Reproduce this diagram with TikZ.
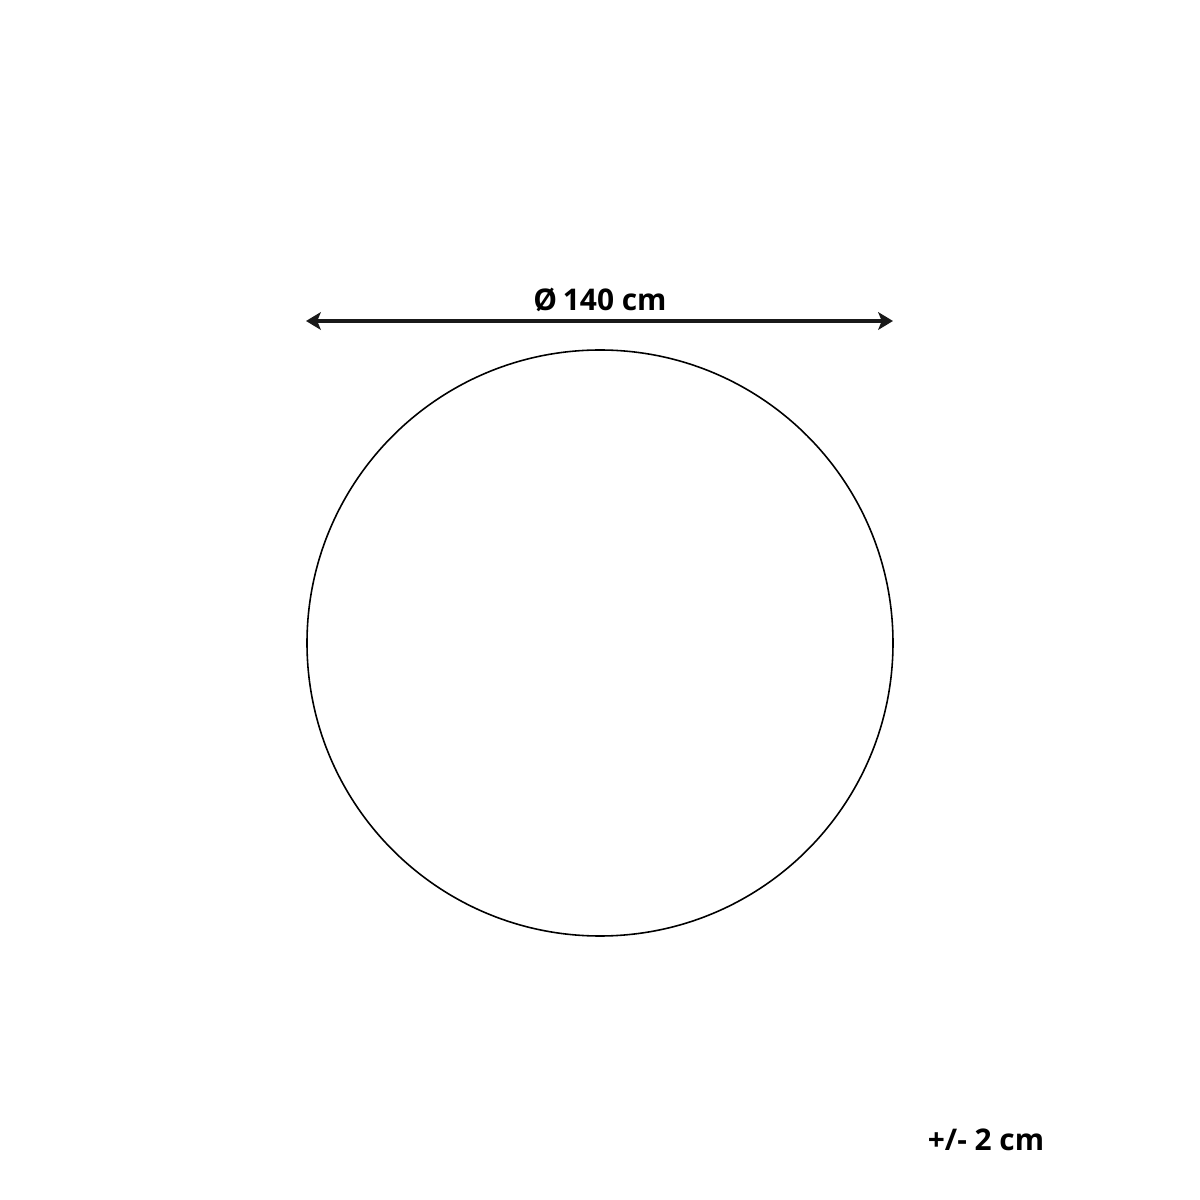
\documentclass[tikz,border=0pt]{standalone}
\usepackage{fontspec}
\setmainfont{Open Sans}
\usepackage{tikz}
\usetikzlibrary{arrows.meta}

\begin{document}
\begin{tikzpicture}[
            > = {Stealth[length=4.2pt, width=5pt, inset=1pt]}, % arrow head style
            semithick, % line style
            rug/.style = {draw = black, circle, line width = 0.45pt, minimum size = 5.86cm, inner sep = 0pt},
            dimline/.style = {<->, line width = 1.2pt, color = black!90},
            dimtext/.style = {font = \fontsize{8.5}{10}\selectfont\bfseries, inner sep = 0pt}
        ]

        \useasboundingbox (0,0) rectangle (12,12);

        \node[rug] (rug) at (6.00,5.57) {};

        \coordinate (dl) at (3.06,8.79);
        \coordinate (dr) at (8.93,8.79);
        \draw[dimline] (dl) -- (dr);

        \node[dimtext] (diam) at (6.00,9.00) {Ø\hspace{-0.6pt} 140 cm};
        \node[dimtext] (tol) at (9.86,0.60) {+/- 2 cm};

  \end{tikzpicture}
\end{document}
